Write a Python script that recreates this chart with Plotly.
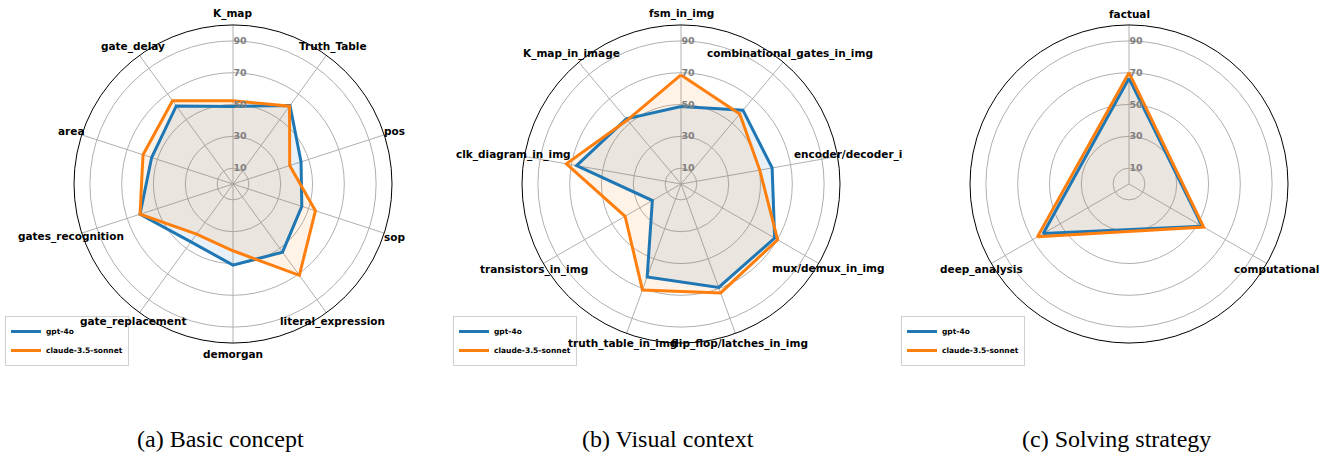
import math
import plotly.graph_objects as go

# ---- data ----
series_names = ["gpt-4o", "claude-3.5-sonnet"]

basic_categories = ["K_map", "Truth_Table", "pos", "sop", "literal_expression",
                    "demorgan", "gate_replacement", "gates_recognition", "area", "gate_delay"]
basic_gpt4o = [48.8, 61.0, 45.0, 45.5, 53.0, 51.0, 45.0, 61.5, 53.8, 60.7]
basic_claude = [52.4, 60.5, 37.5, 54.5, 71.0, 42.0, 39.0, 61.5, 59.5, 64.7]

visual_categories = ["fsm_in_img", "combinational_gates_in_img", "encoder/decoder_i",
                     "mux/demux_in_img", "flip_flop/latches_in_img", "truth_table_in_img",
                     "transistors_in_img", "clk_diagram_in_img", "K_map_in_image"]
visual_gpt4o = [48.7, 60.6, 58.2, 68.0, 69.2, 62.2, 20.8, 66.7, 53.5]
visual_claude = [68.6, 57.5, 50.3, 70.2, 72.9, 70.9, 40.6, 73.2, 52.5]

strategy_categories = ["factual", "computational", "deep_analysis"]
strategy_gpt4o = [66.5, 53.1, 62.3]
strategy_claude = [70.0, 54.2, 66.5]

captions = ["(a) Basic concept", "(b) Visual context", "(c) Solving strategy"]
radial_ticks = [10, 30, 50, 70, 90]

# ---- styling ----
W, H = 1328, 456
colors = ["#1f77b4", "#ff7f0e"]
fills = ["rgba(31,119,180,0.10)", "rgba(255,127,14,0.10)"]
centers = [233, 681, 1129]
cy, R = 184, 159
LABEL_PX = 170  # category labels centred this far from the centre (px)

panels = [
    (basic_categories, [basic_gpt4o, basic_claude]),
    (visual_categories, [visual_gpt4o, visual_claude]),
    (strategy_categories, [strategy_gpt4o, strategy_claude]),
]

fig = go.Figure()
layout = {}
annotations = []
for i, (cats, vals) in enumerate(panels):
    pname = "polar" if i == 0 else f"polar{i+1}"
    lname = "legend" if i == 0 else f"legend{i+1}"
    th = cats + [cats[0]]
    for j, v in enumerate(vals):
        fig.add_trace(go.Scatterpolar(
            r=v + [v[0]], theta=th, subplot=pname, mode="lines", fill="toself",
            fillcolor=fills[j], line=dict(width=0, color=fills[j]),
            showlegend=False, hoverinfo="skip"))
    for j, v in enumerate(vals):
        fig.add_trace(go.Scatterpolar(
            r=v + [v[0]], theta=th, subplot=pname, mode="lines",
            line=dict(width=3, color=colors[j]), name=series_names[j],
            legend=lname, showlegend=True))
    cx = centers[i]
    # category labels (angular tick labels), centred just outside the outer ring
    n = len(cats)
    for k, c in enumerate(cats):
        a = 2 * math.pi * k / n
        px = cx + LABEL_PX * math.sin(a)
        py = cy - LABEL_PX * math.cos(a)
        annotations.append(dict(
            x=px / W, y=1 - py / H, xref="paper", yref="paper", text=c,
            showarrow=False, xanchor="center", yanchor="middle",
            font=dict(family="DejaVu Sans", size=10.5, color="black", weight="bold")))
    layout[pname] = dict(
        domain=dict(x=[(cx - R) / W, (cx + R) / W], y=[1 - (cy + R) / H, 1 - (cy - R) / H]),
        bgcolor="white",
        angularaxis=dict(
            type="category", categoryarray=cats, rotation=90, direction="clockwise",
            showline=True, linecolor="black", linewidth=1,
            gridcolor="#b0b0b0", gridwidth=0.8, ticks="", showticklabels=False,
        ),
        radialaxis=dict(
            range=[0, 100], tickvals=radial_ticks, angle=90, tickangle=90,
            showline=False, gridcolor="#b0b0b0", gridwidth=0.8, ticks="",
            side="clockwise",
            tickfont=dict(family="DejaVu Sans", size=9.5, color="#808080", weight="bold"),
        ),
    )
    layout[lname] = dict(
        x=(cx - 228) / W, y=1 - 316 / H, xanchor="left", yanchor="top",
        font=dict(family="DejaVu Sans", size=7.5, color="black", weight="bold"),
        bgcolor="rgba(255,255,255,0.8)", bordercolor="#d0d0d0", borderwidth=1,
        itemwidth=30, tracegroupgap=0,
    )

for i, cap in enumerate(captions):
    annotations.append(dict(
        x=(centers[i] - 13) / W, y=1 - 439 / H, xref="paper", yref="paper",
        text=cap, showarrow=False, xanchor="center", yanchor="middle",
        font=dict(family="Liberation Serif", size=24, color="black")))

fig.update_layout(
    width=W, height=H, margin=dict(l=0, r=0, t=0, b=0),
    paper_bgcolor="white", plot_bgcolor="white",
    annotations=annotations, **layout)

fig.write_html("out.html", config={"displayModeBar": False},
               post_script="document.body.style.margin='0';")
